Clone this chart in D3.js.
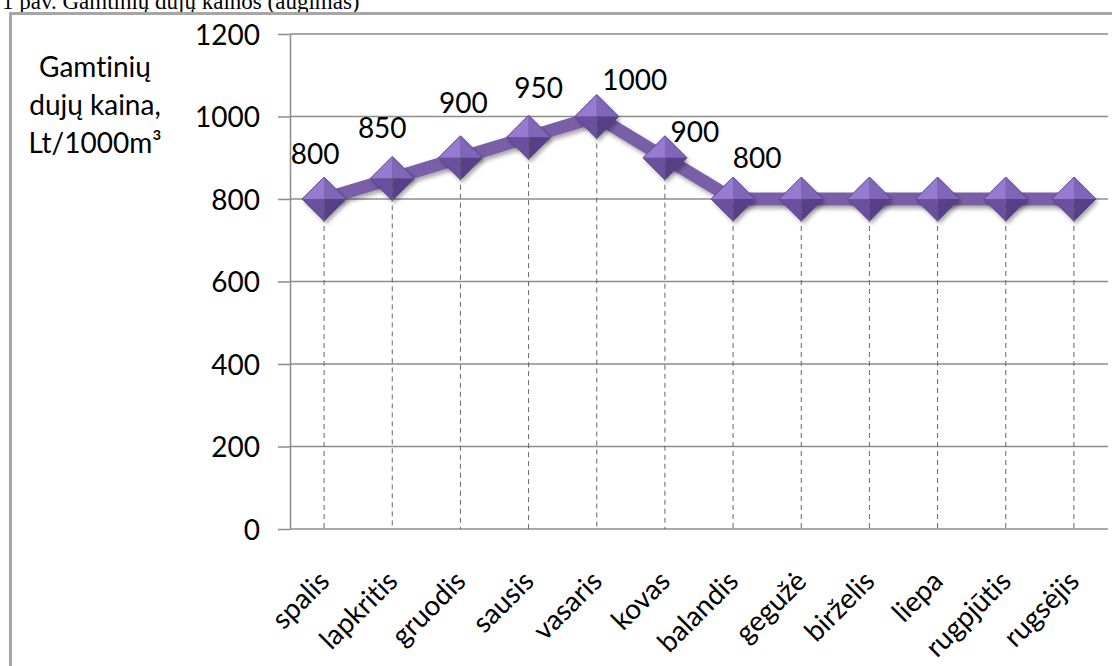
<!DOCTYPE html>
<html>
<head>
<meta charset="utf-8">
<script src="https://cdn.jsdelivr.net/npm/d3@7"></script>
<style>
  body { margin: 0; background: #fff; }
  svg { display: block; }
  .tick text, .lbl, .ytitle { font-family: Lato, "Open Sans", sans-serif; font-size: 28px; fill: #000;
    font-variant-ligatures: none; font-feature-settings: "liga" 0; }
  .caption { font-family: "Liberation Serif", "Times New Roman", serif; font-size: 23px; }
</style>
</head>
<body>
<svg width="1112" height="666"></svg>
<script>
const months = ["spalis", "lapkritis", "gruodis", "sausis", "vasaris", "kovas",
  "balandis", "gegužė", "birželis", "liepa", "rugpjūtis", "rugsėjis"]
const prices = [800, 850, 900, 950, 1000, 900, 800, 800, 800, 800, 800, 800]
const shownLabels = ["800", "850", "900", "950", "1000", "900", "800", null, null, null, null, "800"]
const yTicks = [0, 200, 400, 600, 800, 1000, 1200]

// label nudges relative to the marker (layout only)
const nudge = [[-9, -45], [-10, -50], [3, -55], [10, -49], [38, -37], [30, -26],
  [24, -41], [0, 0], [0, 0], [0, 0], [0, 0], [-8, -41]]

const svg = d3.select("svg")

const x = d3.scaleBand()
    .domain(months)
    .range([290, 1108])

const y = d3.scaleLinear()
    .domain([0, 1200])
    .range([529, 34])

const cx = d => x(d) + x.bandwidth() / 2

const defs = svg.append("defs")
defs.append("filter")
    .attr("id", "shadow")
    .attr("x", "-30%").attr("y", "-30%").attr("width", "160%").attr("height", "160%")
    .append("feDropShadow")
    .attr("dx", 2).attr("dy", 3).attr("stdDeviation", 2)
    .attr("flood-color", "#000").attr("flood-opacity", 0.35)

// caption (page text above the chart, partly off the top like the original)
svg.append("text")
    .attr("class", "caption")
    .attr("x", 2)
    .attr("y", 9)
    .text("1 pav. Gamtinių dujų kainos (augimas)")

// frame
svg.append("rect")
    .attr("x", 10.5)
    .attr("y", 13.5)
    .attr("width", 1200)
    .attr("height", 800)
    .attr("fill", "none")
    .attr("stroke", "#a6a6a6")
    .attr("stroke-width", 3)

// gridlines
svg.append("g")
    .selectAll("line")
    .data(yTicks)
    .enter()
    .append("line")
    .attr("x1", 290)
    .attr("x2", 1108)
    .attr("y1", d => y(d))
    .attr("y2", d => y(d))
    .attr("stroke", "#8c8c8c")
    .attr("stroke-width", 1.5)

const yAxis = svg.append("g")
    .attr("transform", "translate(290,0)")
    .call(d3.axisLeft(y).tickValues(yTicks).tickFormat(d3.format("d"))
      .tickSize(12).tickSizeOuter(0).tickPadding(18))
yAxis.select(".domain").attr("stroke", "#8c8c8c").attr("stroke-width", 1.5)
yAxis.selectAll(".tick line").attr("stroke", "#8c8c8c").attr("stroke-width", 1.5)
yAxis.selectAll(".tick text").attr("dy", "0.36em")
yAxis.attr("font-family", null).attr("font-size", null)

// y title
svg.append("text")
    .attr("class", "ytitle")
    .attr("text-anchor", "middle")
    .selectAll("tspan")
    .data(["Gamtinių", "dujų kaina,", "Lt/1000m³"])
    .enter()
    .append("tspan")
    .attr("x", 95)
    .attr("y", (d, i) => 77 + i * 38)
    .text(d => d)

// category labels
svg.append("g")
    .selectAll("text")
    .data(months)
    .enter()
    .append("text")
    .attr("class", "lbl")
    .attr("text-anchor", "end")
    .attr("transform", d => `translate(${cx(d) + 7},583) rotate(-45)`)
    .text(d => d)

// line
const line = d3.line()
    .x((d, i) => cx(months[i]))
    .y(d => y(d))

svg.append("path")
    .datum(prices)
    .attr("d", line)
    .attr("fill", "none")
    .attr("stroke", "#7a5ea8")
    .attr("stroke-width", 13)
    .attr("stroke-linejoin", "round")
    .attr("filter", "url(#shadow)")

// diamond markers
const h = 22
const facets = [
  { c: "#967bd1", p: [[0, -1], [-1, 0], [0, 0]] },
  { c: "#8165b8", p: [[0, -1], [1, 0], [0, 0]] },
  { c: "#6a509f", p: [[-1, 0], [0, 1], [0, 0]] },
  { c: "#574088", p: [[1, 0], [0, 1], [0, 0]] }
]

const markers = svg.append("g")
    .selectAll("g.marker")
    .data(prices)
    .enter()
    .append("g")
    .attr("class", "marker")
    .attr("transform", (d, i) => `translate(${cx(months[i])},${y(d)})`)

markers.append("path")
    .attr("d", `M0,${-h}L${h},0L0,${h}L${-h},0Z`)
    .attr("fill", "#6e54a3")
    .attr("filter", "url(#shadow)")

facets.forEach(f => {
  markers.append("path")
      .attr("d", "M" + f.p.map(q => [q[0] * h, q[1] * h].join(",")).join("L") + "Z")
      .attr("fill", f.c)
})

markers.append("path")
    .attr("d", `M0,${-h}L${h},0L0,${h}L${-h},0Z`)
    .attr("fill", "none")
    .attr("stroke", "#54407f")
    .attr("stroke-width", 0.8)

// drop lines
svg.append("g")
    .selectAll("line")
    .data(prices)
    .enter()
    .append("line")
    .attr("x1", (d, i) => cx(months[i]))
    .attr("x2", (d, i) => cx(months[i]))
    .attr("y1", d => y(d))
    .attr("y2", y(0))
    .attr("stroke", "#666")
    .attr("stroke-width", 1)
    .attr("stroke-dasharray", "5,4")

// data labels
svg.append("g")
    .selectAll("text")
    .data(prices)
    .enter()
    .filter((d, i) => shownLabels[i] != null)
    .append("text")
    .attr("class", "lbl")
    .attr("text-anchor", "middle")
    .attr("x", (d, i) => cx(months[i]) + nudge[i][0])
    .attr("y", (d, i) => y(d) + nudge[i][1])
    .attr("dy", "0.36em")
    .text((d, i) => shownLabels[i])
</script>
</body>
</html>
